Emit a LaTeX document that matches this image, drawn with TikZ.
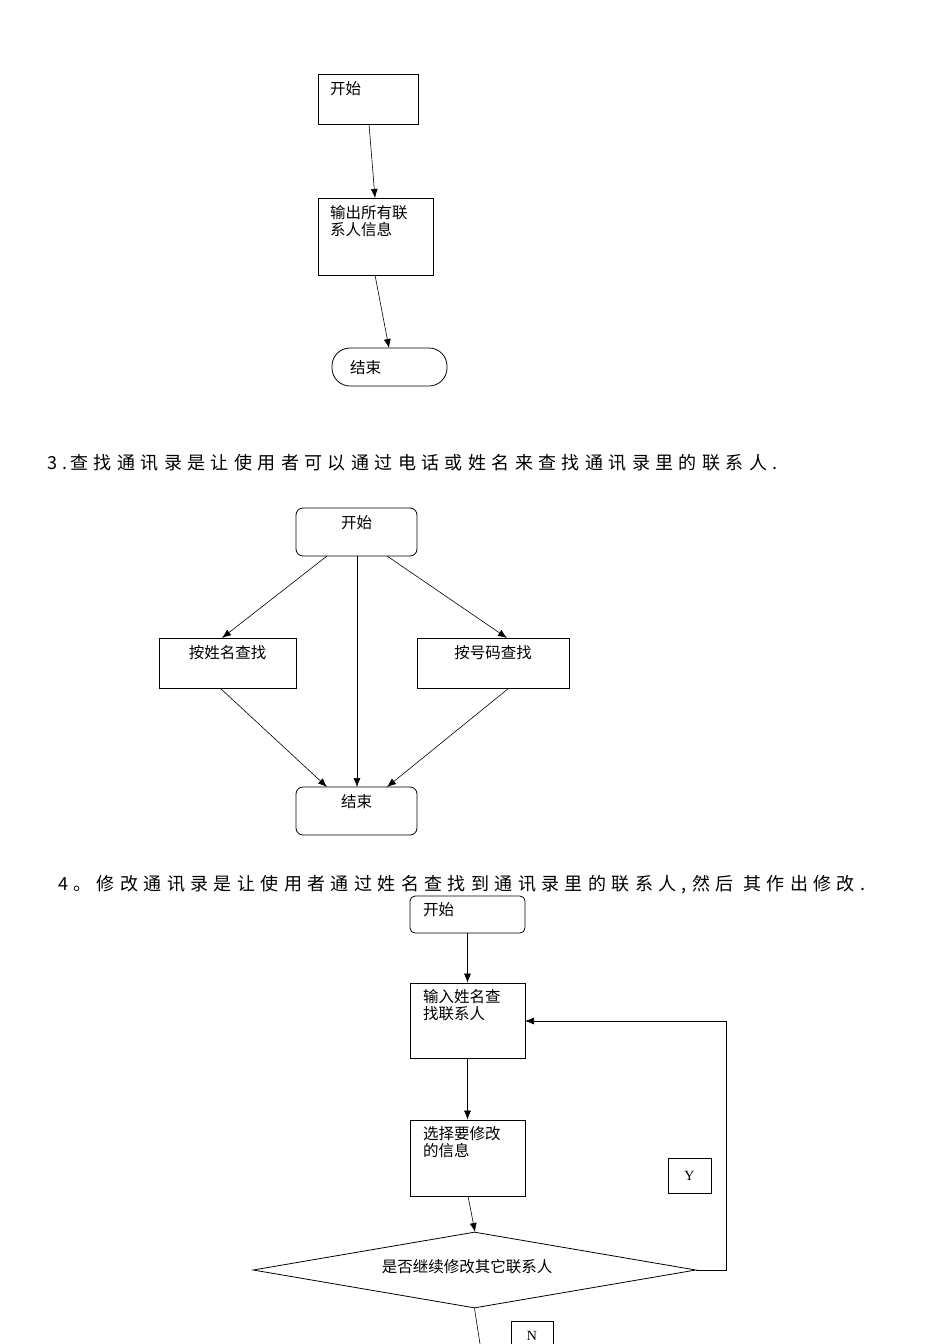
\documentclass[tikz,border=0pt]{standalone}
\usepackage{fontspec}
\setmainfont{Liberation Serif}
\newfontfamily\cjk{Noto Sans CJK SC}
\newfontfamily\cjkh[LetterSpace=30]{Noto Sans CJK SC}
\usetikzlibrary{shapes.geometric,arrows.meta}
\begin{document}
\begin{tikzpicture}[x=1pt,y=-1pt,
  box/.style={draw,thick,inner sep=0pt},
  rbox/.style={draw,thick,rounded corners=7pt,inner sep=0pt},
  lbl/.style={font=\cjk\fontsize{15.5}{17}\selectfont,align=left,anchor=north west,inner sep=0pt},
  clbl/.style={font=\cjk\fontsize{15.5}{17}\selectfont,anchor=north,inner sep=0pt},
  head/.style={font=\cjkh\fontsize{18}{20}\selectfont,anchor=west,inner sep=0pt},
  arr/.style={-{Latex[length=9pt,width=7pt]},semithick}]
\useasboundingbox (0,0) rectangle (950,1344);
% section top
\draw[box] (318,74) rectangle (418,124);
\node[lbl] (t1) at (330,81) {开始};
\draw[box] (318,198) rectangle (433,275);
\node[lbl] (t2) at (330,205) {输出所有联\\系人信息};
\draw[thick,rounded corners=18pt] (332,348) rectangle (447,386);
\node[lbl] (t3) at (350,360) {结束};
\coordinate (a1) at (369,124); \coordinate (a2) at (375,198);
\coordinate (a3) at (375,275); \coordinate (a4) at (389,348);
\draw[arr] (a1) -- (a2);
\draw[arr] (a3) -- (a4);
% heading 3
\node[head] (h3) at (47,463) {3.\,查找通讯录是让使用者可以通过电话或姓名来查找通讯录里的联系人.};
% section 3
\node[rbox,minimum width=121pt,minimum height=48pt] (s) at (356.5,532) {};
\node[clbl] at (356.5,515) {开始};
\node[box,minimum width=137pt,minimum height=50pt] (n) at (227.5,663) {};
\node[clbl] at (227.5,645) {按姓名查找};
\node[box,minimum width=152pt,minimum height=50pt] (p) at (493,663) {};
\node[clbl] at (493,645) {按号码查找};
\node[rbox,minimum width=121pt,minimum height=48pt] (e) at (356.5,811) {};
\node[clbl] at (356.5,794) {结束};
\coordinate (b1) at (327,556); \coordinate (b2) at (222,638);
\coordinate (b3) at (357,556); \coordinate (b4) at (357,787);
\coordinate (b5) at (387,556); \coordinate (b6) at (507,638);
\coordinate (b7) at (220,688); \coordinate (b8) at (327,787);
\coordinate (b9) at (509,688); \coordinate (b10) at (387,787);
\draw[arr] (b1) -- (b2); \draw[arr] (b3) -- (b4); \draw[arr] (b5) -- (b6);
\draw[arr] (b7) -- (b8); \draw[arr] (b9) -- (b10);
% heading 4
\node[head] (h4) at (58,885) {4。修改通讯录是让使用者通过姓名查找到通讯录里的联系人,然后\ 其作出修改.};
% section 4
\node[rbox,rounded corners=5pt,minimum width=115pt,minimum height=37pt] (c1) at (467.5,914.5) {};
\node[lbl] at (423,902) {开始};
\node[box,minimum width=115pt,minimum height=75pt] (c2) at (467.5,1020.5) {};
\node[lbl] at (423,989) {输入姓名查\\找联系人};
\node[box,minimum width=115pt,minimum height=76pt] (c3) at (467.5,1158) {};
\node[lbl] at (423,1126) {选择要修改\\的信息};
\node[draw,thick,diamond,aspect=5.8,minimum width=443pt,minimum height=76pt,inner sep=0pt] (d) at (474.5,1270) {};
\node[font=\cjk\fontsize{15.5}{17}\selectfont] at (467,1267) {是否继续修改其它联系人};
\node[draw,thick,minimum width=43pt,minimum height=35pt,font=\fontsize{14}{16}\selectfont] (y) at (689.5,1175.5) {Y};
\node[draw,thick,minimum width=42pt,minimum height=30pt,font=\fontsize{14}{16}\selectfont] (nn) at (532,1336) {N};
\draw[arr] (c1) -- (c2);
\draw[arr] (c2) -- (c3);
\coordinate (d1) at (468,1196); \coordinate (d2) at (475,1232);
\draw[arr] (d1) -- (d2);
\coordinate (r1) at (726,1270); \coordinate (r2) at (726,1021); \coordinate (r3) at (525,1021);
\draw[arr] (d.east) -- (r1) -- (r2) -- (r3);
\coordinate (q) at (480,1344);
\draw[semithick] (d.south) -- (q);
\end{tikzpicture}
\end{document}
